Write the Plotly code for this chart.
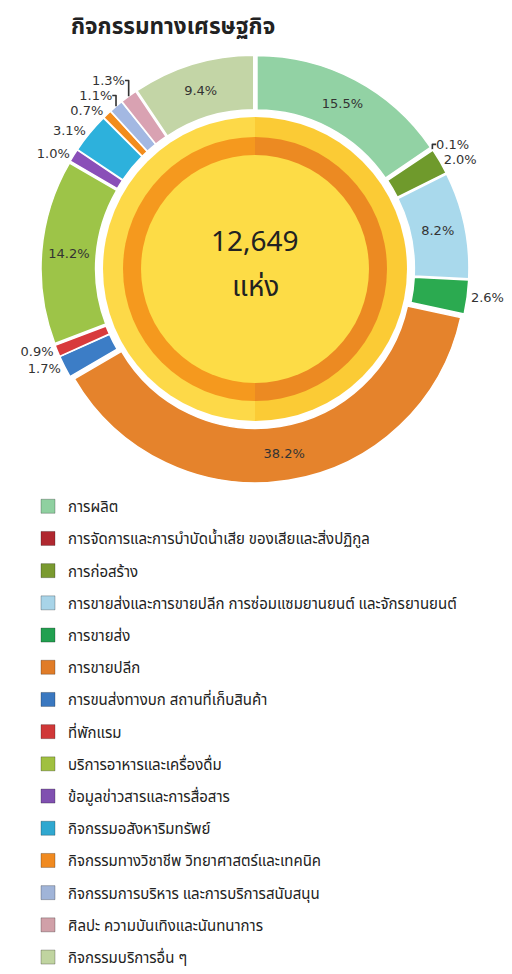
import plotly.graph_objects as go

# ---- data ----
categories = [
    "การผลิต",
    "การจัดการและการบำบัดน้ำเสีย ของเสียและสิ่งปฏิกูล",
    "การก่อสร้าง",
    "การขายส่งและการขายปลีก การซ่อมแซมยานยนต์ และจักรยานยนต์",
    "การขายส่ง",
    "การขายปลีก",
    "การขนส่งทางบก สถานที่เก็บสินค้า",
    "ที่พักแรม",
    "บริการอาหารและเครื่องดื่ม",
    "ข้อมูลข่าวสารและการสื่อสาร",
    "กิจกรรมอสังหาริมทรัพย์",
    "กิจกรรมทางวิชาชีพ วิทยาศาสตร์และเทคนิค",
    "กิจกรรมการบริหาร และการบริการสนับสนุน",
    "ศิลปะ ความบันเทิงและนันทนาการ",
    "กิจกรรมบริการอื่น ๆ",
]
shares = [15.5, 0.1, 2.0, 8.2, 2.6, 38.2, 1.7, 0.9, 14.2, 1.0, 3.1, 0.7, 1.1, 1.3, 9.4]
total_units = "12,649"
unit_label = "แห่ง"
title_text = "กิจกรรมทางเศรษฐกิจ"

# ---- styles ----
colors = ["#92D2A4", "#B8302E", "#6F9A2C", "#A9D9EC", "#2BAA50", "#E5832C",
          "#3C7DC6", "#D83A3C", "#9DC448", "#8A4FB8", "#2DB1DC", "#F28C1C",
          "#A3B8E2", "#D9A2B2", "#C3D5A6"]
legend_colors = ["#8FD0A0", "#B02830", "#7A9A30", "#A8D4E8", "#22A050", "#E07C28",
                 "#3A78C0", "#D03838", "#A0C040", "#8050B0", "#30A8D0", "#F08A20",
                 "#A0B4D8", "#D0A0A8", "#C0D4A0"]
THAI = "Noto Sans Thai, Noto Sans Thai UI, Tahoma, Loma, Garuda, Noto Sans, sans-serif"
LBL = "DejaVu Sans, Verdana, sans-serif"

# the page body has an 8px margin, so the figure is drawn 8px in from the window corner
OFF = 8
W, H = 512 - OFF, 974 - OFF


def px(x):
    return (x - OFF) / W


def py(y):
    return 1 - (y - OFF) / H


cx, cy = 255, 269   # window coordinates of the ring centre


def dom(r):
    return dict(x=[px(cx - r), px(cx + r)], y=[py(cy + r), py(cy - r)])


pull = 0.02
positions = ["inside" if v >= 5 else "outside" for v in shares]

fig = go.Figure()

# decorative centre: outer yellow ring (two tone) and orange ring, inner disk
fig.add_trace(go.Pie(values=[1, 1], marker=dict(colors=["#FBCB35", "#FDD948"], line=dict(width=0)),
                     domain=dom(152), sort=False, direction="clockwise", rotation=0,
                     textinfo="none", hoverinfo="skip", showlegend=False))
fig.add_trace(go.Pie(values=[1, 1], marker=dict(colors=["#EC8A22", "#F5991E"], line=dict(width=0)),
                     domain=dom(132), sort=False, direction="clockwise", rotation=0,
                     textinfo="none", hoverinfo="skip", showlegend=False))
fig.add_trace(go.Pie(values=[1], marker=dict(colors=["#FDDC46"], line=dict(width=0)),
                     domain=dom(114), sort=False, textinfo="none", hoverinfo="skip",
                     showlegend=False))

# main donut
fig.add_trace(go.Pie(
    labels=categories, values=shares, sort=False, direction="clockwise", rotation=0,
    hole=0.74, pull=pull, domain=dom(214),
    marker=dict(colors=colors, line=dict(color="white", width=1.5)),
    texttemplate="%{value:.1f}%", textposition=positions,
    insidetextorientation="horizontal",
    insidetextfont=dict(family=LBL, size=13, color="#333333"),
    outsidetextfont=dict(family=LBL, size=13, color="#333333"),
    showlegend=False, hoverinfo="label+value",
))

# legend entries
for name, col in zip(categories, legend_colors):
    fig.add_trace(go.Scatter(x=[None], y=[None], mode="markers", name=name, legendgroup=name,
                             marker=dict(symbol="square", size=14, color=col,
                                         line=dict(color="rgba(0,0,0,0.25)", width=1))))

fig.add_annotation(text=total_units, x=px(cx), y=py(242.5), xref="paper", yref="paper",
                   showarrow=False, font=dict(family=THAI, size=28, color="#222222"),
                   xanchor="center", yanchor="middle")
fig.add_annotation(text=unit_label, x=px(cx), y=py(287), xref="paper", yref="paper",
                   showarrow=False, font=dict(family=THAI, size=28, color="#222222"),
                   xanchor="center", yanchor="middle")
fig.add_annotation(text="<b>" + title_text + "</b>", x=px(69), y=1.0, xref="paper",
                   yref="paper", showarrow=False, font=dict(family=THAI, size=22.5, color="#222222"),
                   xanchor="left", yanchor="top")

fig.update_layout(
    width=W, height=H, margin=dict(l=0, r=0, t=0, b=0, autoexpand=False),
    paper_bgcolor="white", plot_bgcolor="white",
    xaxis=dict(visible=False), yaxis=dict(visible=False),
    legend=dict(x=px(28), y=py(490), xanchor="left", yanchor="top",
                traceorder="grouped", tracegroupgap=9.7,
                font=dict(family=THAI, size=15, color="#222222"),
                bgcolor="rgba(0,0,0,0)"),
    showlegend=True,
)

fig.write_html("out.html")
